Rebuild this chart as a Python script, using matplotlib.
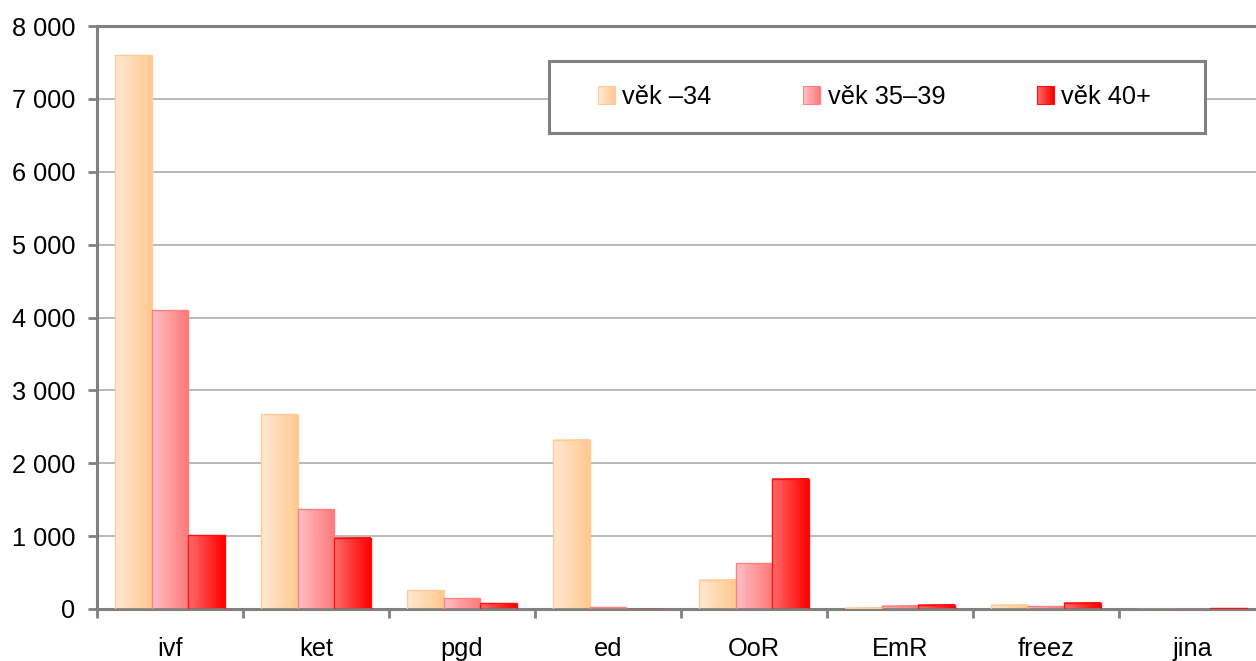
import numpy as np
import matplotlib
matplotlib.use("Agg")
import matplotlib.pyplot as plt
from matplotlib.colors import LinearSegmentedColormap
from matplotlib.patches import Rectangle
from matplotlib.legend_handler import HandlerBase

categories = ["ivf", "ket", "pgd", "ed", "OoR", "EmR", "freez", "jina"]
series_names = ["věk –34", "věk 35–39", "věk 40+"]
age_34 = [7600, 2670, 260, 2320, 400, 20, 55, 5]
age_35_39 = [4100, 1370, 150, 25, 630, 45, 40, 0]
age_40 = [1015, 980, 80, 0, 1785, 60, 85, 10]
yticks = [0, 1000, 2000, 3000, 4000, 5000, 6000, 7000, 8000]
ytick_labels = ["0", "1 000", "2 000", "3 000", "4 000", "5 000", "6 000", "7 000", "8 000"]

grad_colors = [("#FFE8D2", "#FFC990"), ("#FFC0C6", "#FF7878"), ("#FF6A6A", "#FF0000")]
edge_colors = ["#FFCC99", "#FF8080", "#FF1010"]

plt.rcParams['font.family'] = ['Liberation Sans', 'DejaVu Sans']
FS = 18.3

fig = plt.figure(figsize=(12.56, 6.61), dpi=100)
ax = fig.add_axes([97/1256, 52/661, 1168/1256, 583/661])

n = len(categories)
x = np.arange(n)
w = 0.25
data = [age_34, age_35_39, age_40]
grad = np.linspace(0, 1, 64).reshape(1, -1)
for i, vals in enumerate(data):
    cmap = LinearSegmentedColormap.from_list("g%d" % i, list(grad_colors[i]))
    bars = ax.bar(x + (i - 1) * w, vals, width=w, color="none", edgecolor=edge_colors[i],
                  linewidth=1.0, zorder=3)
    for b in bars:
        bx, by, bw, bh = b.get_x(), b.get_y(), b.get_width(), b.get_height()
        if bh <= 0:
            continue
        ax.imshow(grad, cmap=cmap, aspect="auto", extent=(bx, bx + bw, by, by + bh),
                  zorder=2.5, interpolation="bilinear")

ax.set_xlim(-0.5, n - 0.5)
ax.set_ylim(0, 8000)
ax.set_yticks(yticks)
ax.set_yticklabels(ytick_labels)
ax.set_xticks(np.arange(n + 1) - 0.5)
ax.set_xticklabels([])
ax.set_xticks(x, minor=True)
ax.set_xticklabels(categories, minor=True)
ax.tick_params(axis="x", which="major", length=6.5, width=2, color="#808080", direction="out")
ax.tick_params(axis="x", which="minor", length=0, pad=20, labelsize=FS)
ax.tick_params(axis="y", length=6.5, width=2, color="#808080", direction="out", labelsize=FS, pad=9)
ax.yaxis.grid(True, color="#A6A6A6", linewidth=1.1, zorder=0)
ax.set_axisbelow(True)
for s in ["left", "bottom", "top"]:
    ax.spines[s].set_color("#808080")
    ax.spines[s].set_linewidth(2.2)
ax.spines["right"].set_visible(False)


class GradHandler(HandlerBase):
    def __init__(self, c0, c1, ec):
        super().__init__()
        self.c0, self.c1, self.ec = c0, c1, ec

    def create_artists(self, legend, orig_handle, xdescent, ydescent, width, height, fontsize, trans):
        cmap = LinearSegmentedColormap.from_list("h", [self.c0, self.c1])
        arts = []
        k = 10
        size = width
        x0 = -xdescent
        y0 = (height - size) / 2 - ydescent
        for j in range(k):
            arts.append(Rectangle((x0 + j * size / k, y0), size / k + 0.2, size,
                                  facecolor=cmap(j / (k - 1)), edgecolor="none", transform=trans))
        arts.append(Rectangle((x0, y0), size, size, facecolor="none",
                              edgecolor=self.ec, linewidth=0.8, transform=trans))
        return arts


# legend box
box = Rectangle((549/1256, 1 - 133/661), (1205-549)/1256, 72/661, transform=fig.transFigure,
                facecolor="white", edgecolor="#808080", linewidth=2.2, zorder=5)
fig.add_artist(box)

handles = [Rectangle((0, 0), 1, 1) for _ in range(3)]
hmap = {handles[i]: GradHandler(grad_colors[i][0], grad_colors[i][1], edge_colors[i]) for i in range(3)}
leg = fig.legend(handles, series_names, handler_map=hmap, ncol=3,
                 loc="center left", bbox_to_anchor=(598/1256, 1 - 97/661),
                 fontsize=FS, frameon=False, borderpad=0,
                 handlelength=0.68, handletextpad=0.28, columnspacing=3.6,
                 borderaxespad=0)
leg.set_zorder(6)

fig.savefig("out.png", dpi=100)
